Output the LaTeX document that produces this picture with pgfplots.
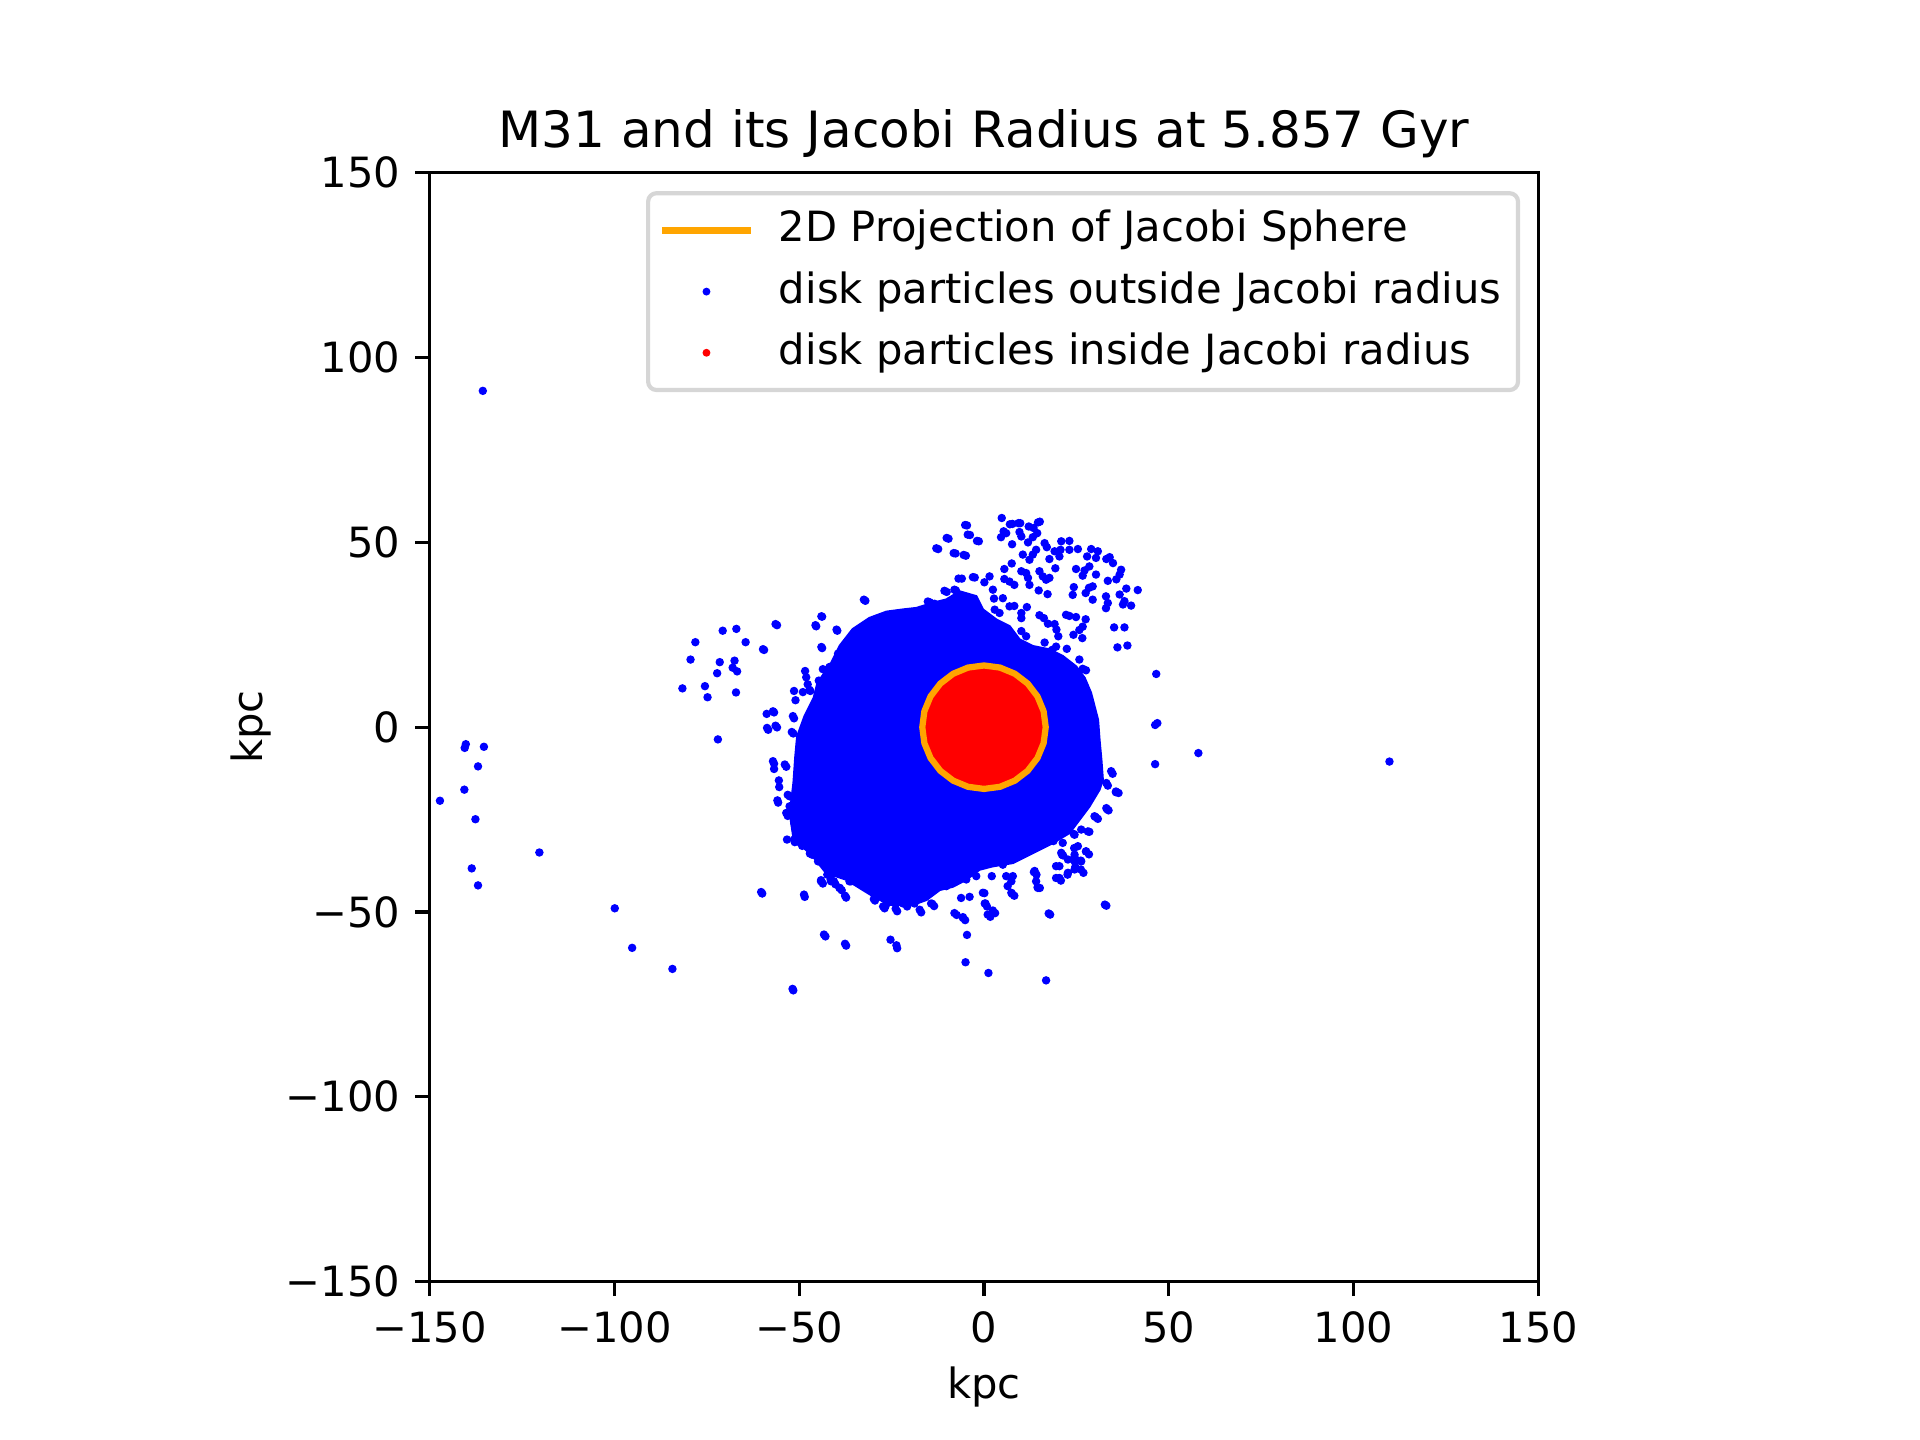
\documentclass[border=0pt]{standalone}
\usepackage{fontspec}
\setmainfont{DejaVu Sans}
\usepackage{pgfplots}
\usepackage{pgfplotstable}
\pgfplotsset{compat=1.18}
\definecolor{mplorange}{RGB}{255,165,0}
\definecolor{legframe}{RGB}{214,214,214}
\definecolor{mblue}{RGB}{0,0,255}
\definecolor{mred}{RGB}{255,0,0}

\pgfplotstableread{
x y
-135.6 91.0
-147.2 -19.9
-140.2 -4.6
-140.5 -5.6
-135.3 -5.3
-136.9 -10.6
-140.6 -16.9
-137.6 -24.9
-138.6 -38.2
-136.9 -42.8
-120.3 -33.9
-99.9 -49.0
-95.2 -59.7
-84.3 -65.4
-51.6 -71.2
-60.0 -45.0
-48.5 -45.9
-42.9 -56.6
-37.3 -59.1
-25.3 -57.5
-23.5 -59.8
-5.0 -63.6
-4.6 -56.2
1.2 -66.5
16.8 -68.5
17.9 -50.7
33.1 -48.3
109.7 -9.3
58.0 -7.0
46.3 -10.0
46.3 0.6
46.9 1.1
46.6 14.4
-78.1 23.0
-70.7 26.1
-67.0 26.6
-64.5 23.0
-56.0 27.6
-59.5 20.9
-79.4 18.3
-71.5 17.6
-67.5 18.0
-68.0 16.1
-66.8 15.1
-72.2 14.6
-81.6 10.5
-75.5 11.1
-74.8 8.1
-67.1 9.4
-72.0 -3.3
41.6 37.1
38.5 37.5
36.1 21.6
38.8 22.1
35.2 27.0
38.0 27.0
33.5 33.6
33.0 32.2
4.8 56.6
-5.1 54.7
-4.4 52.1
-1.9 50.4
-5.5 46.6
7.0 54.9
9.3 55.2
14.6 55.4
12.1 54.3
5.3 53.0
6.0 52.5
9.6 52.8
10.1 51.6
4.6 51.4
14.4 52.5
13.2 51.4
7.6 49.5
11.9 50.0
16.4 49.8
17.0 48.7
14.1 48.0
13.2 46.7
20.9 50.3
23.1 50.4
20.7 48.0
23.1 48.0
25.4 48.2
19.1 47.6
20.4 46.2
29.0 48.2
30.8 47.6
27.9 46.2
30.3 45.8
33.1 45.5
34.0 46.0
10.5 46.7
12.3 45.3
7.5 44.3
17.7 45.5
5.5 42.8
10.1 42.2
11.4 41.7
11.9 40.4
15.0 42.2
15.9 40.8
17.7 40.4
16.8 39.9
19.3 43.0
24.9 42.8
27.2 42.4
26.7 41.0
28.5 43.5
30.3 41.3
34.9 44.4
37.1 42.6
36.7 41.3
35.8 40.0
33.5 39.6
-3.0 40.6
1.5 40.8
0.1 39.2
5.5 40.1
6.9 39.4
8.2 38.5
12.3 38.5
14.8 37.0
17.2 36.0
24.3 37.9
24.0 35.8
28.4 37.7
29.4 38.1
27.5 36.3
29.4 34.5
33.0 35.4
36.7 35.9
38.0 34.1
39.8 32.9
37.6 33.2
2.4 37.2
2.7 34.8
5.1 34.9
6.9 32.7
8.2 32.8
11.6 32.5
10.1 30.9
10.1 29.5
22.2 30.4
24.9 29.8
16.2 29.5
17.3 28.0
19.1 27.9
19.6 26.4
20.1 24.6
27.5 29.2
26.7 27.2
25.8 26.3
24.2 25.0
26.6 24.1
22.4 21.2
25.8 18.3
26.7 15.8
16.4 22.9
19.5 21.8
18.4 20.9
10.1 26.0
11.4 24.6
2.9 31.8
4.2 30.9
15.0 30.3
23.1 30.1
27.6 15.4
-4.6 54.6
-3.8 52.0
-1.4 50.3
-9.6 51.0
-12.4 48.2
-7.7 47.0
-4.9 46.4
-6.0 40.2
-2.5 40.5
-10.1 36.6
-7.6 37.0
-14.7 33.8
7.7 55.0
9.8 55.2
15.1 55.6
13.4 53.9
-10.1 51.2
-12.9 48.4
-8.2 47.1
-6.9 40.2
-10.7 36.9
-8.0 37.2
-15.2 34.0
-13.4 33.4
-32.5 34.5
-44.0 30.0
-45.6 27.6
-39.9 26.4
-44.0 21.7
-39.5 19.9
-56.4 27.9
-59.8 21.1
-33.8 26.4
-48.4 15.2
-47.7 11.6
-44.7 12.6
-43.6 15.7
-41.8 16.3
-51.4 9.8
-49.0 9.5
-47.0 9.8
-32.1 34.2
-43.8 29.9
-45.4 27.3
-39.7 26.1
-43.8 21.4
-33.7 26.1
-39.2 19.6
-48.1 13.5
-47.2 10.1
-51.0 7.3
-44.3 11.0
-58.8 3.6
-56.8 4.0
-58.4 -0.7
-56.0 -0.05
-51.4 2.4
-51.6 -1.7
-56.8 -9.9
-53.5 -10.7
-55.5 -14.4
-55.4 -16.2
-55.7 -20.4
-53.1 -24.0
-51.1 -25.6
-51.2 -31.1
-57.1 4.3
-51.7 3.0
-58.7 -0.2
-56.4 0.4
-52.0 -1.3
-57.1 -9.2
-56.8 -11.3
-53.9 -10.1
-55.9 -19.8
-52.6 -18.7
-53.1 -23.5
-51.5 -21.9
-51.3 -26.1
-49.0 -27.7
-51.4 -30.4
-49.0 -31.8
-45.9 -34.5
-44.1 -41.7
-40.5 -39.5
-41.4 -41.7
-39.1 -43.5
-36.0 -41.7
-33.3 -40.4
-60.3 -44.6
-48.7 -45.3
-50.2 -29.0
-49.2 -32.1
-47.1 -34.2
-44.9 -36.3
-43.3 -56.1
-37.6 -58.6
-23.7 -59.0
-51.8 -70.8
-8.0 -50.3
-14.3 -47.7
-17.4 -49.4
-18.8 -47.7
-23.9 -49.1
-27.3 -48.5
0.2 -47.7
-5.7 -51.6
1.0 -50.7
2.4 -49.6
17.5 -50.4
32.7 -48.0
-43.6 -42.3
-40.2 -42.5
-38.5 -44.1
-37.3 -46.1
-29.5 -46.9
-26.9 -49.0
-23.5 -49.8
-20.8 -48.5
-17.0 -50.1
-13.5 -48.4
-7.4 -50.8
-5.1 -52.2
0.8 -48.5
1.7 -51.3
3.0 -50.3
34.4 -11.9
33.1 -15.1
35.7 -17.4
33.1 -21.9
29.9 -24.1
28.1 -28.2
24.5 -29.1
25.4 -32.2
27.6 -33.6
24.5 -34.5
20.9 -34.0
22.7 -35.8
26.3 -36.3
24.5 -38.5
22.7 -39.4
20.4 -37.6
20.4 -40.8
13.7 -38.9
14.1 -41.7
14.6 -43.5
7.4 -41.7
7.4 -44.8
6.0 -40.3
5.1 -37.2
-0.3 -44.8
-2.1 -40.3
-4.8 -41.2
-5.7 -34.9
34.8 -12.6
36.4 -17.8
33.7 -22.5
30.8 -24.8
21.4 -34.7
24.5 -36.3
28.4 -34.4
26.9 -39.4
20.8 -41.5
15.1 -43.5
8.2 -45.6
14.2 -39.9
-44.1 -41.4
-5.7 -51.4
7.6 -45.1
0.1 -44.9
0.4 -47.7
-6.2 -46.2
-3.9 -45.9
-14.0 -47.8
-26.6 -48.3
-21.9 -47.7
-29.8 -46.5
-37.6 -45.6
-39.0 -43.5
-40.6 -41.7
6.4 -43.0
7.8 -40.3
14.5 -43.3
19.5 -40.8
19.5 -37.6
22.6 -39.9
24.7 -37.8
26.2 -38.5
24.6 -35.4
26.2 -36.1
27.6 -33.6
24.4 -32.7
21.3 -31.3
21.1 -34.5
28.5 -28.3
26.3 -27.7
24.3 -28.9
30.2 -24.3
33.3 -22.2
35.7 -17.6
33.5 -15.8
18.8 -30.8
13.5 -39.2
2.1 -40.3
-10.2 -43.0
-12.9 -43.0
-53.3 -30.4
-53.5 -23.2
-53.1 -18.3
-52.6 -21.4
-50.2 -31.0
-46.5 -34.5
-42.4 -39.9
-41.5 -41.2
-36.4 -41.7
-33.2 -40.8
}\outside

\pgfplotstableread{
x y
-46.0 8.0
-45.0 12.0
-41.5 17.0
-39.0 22.0
-35.5 26.5
-31.0 29.5
-26.4 31.2
-21.9 31.8
-18.3 32.2
-13.8 33.6
-10.2 34.5
-6.6 36.7
-2.1 35.4
-0.3 31.8
3.3 29.1
6.9 27.3
9.6 23.7
13.2 21.9
17.7 21.0
21.3 19.2
24.9 16.4
27.2 13.3
28.9 9.3
30.8 2.0
31.2 -3.4
31.7 -8.8
32.1 -14.2
31.2 -16.9
28.5 -21.4
25.8 -25.0
23.1 -28.6
18.6 -31.3
13.2 -34.0
7.8 -36.7
2.3 -37.6
-1.2 -38.5
-4.8 -41.2
-8.4 -43.1
-12.0 -44.0
-15.6 -46.7
-19.2 -48.0
-25.6 -48.0
-30.0 -45.7
-37.3 -41.2
-42.7 -39.4
-46.3 -34.9
-51.5 -30.0
-52.5 -23.2
-51.5 -15.1
-51.0 -7.9
-50.5 -2.5
-48.5 3.0
-46.0 8.0
}\dense

\pgfplotstableread{
x y
16.7 0
16.13 4.32
14.46 8.35
11.81 11.81
8.35 14.46
4.32 16.13
0 16.7
-4.32 16.13
-8.35 14.46
-11.81 11.81
-14.46 8.35
-16.13 4.32
-16.7 0
-16.13 -4.32
-14.46 -8.35
-11.81 -11.81
-8.35 -14.46
-4.32 -16.13
0 -16.7
4.32 -16.13
8.35 -14.46
11.81 -11.81
14.46 -8.35
16.13 -4.32
16.7 0
}\jacobi

\begin{document}
\begin{tikzpicture}
\path[use as bounding box] (0,0) rectangle (460.8pt,345.6pt);
\begin{axis}[
  at={(103.104pt,38.016pt)}, anchor=south west,
  scale only axis, width=266.112pt, height=266.112pt,
  xmin=-150, xmax=150, ymin=-150, ymax=150,
  axis line style={line width=0.8pt},
  tick align=outside, major tick length=3.5pt,
  tick pos=left,
  every tick/.style={black, line width=0.8pt},
  xtick={-150,-100,-50,0,50,100,150},
  ytick={-150,-100,-50,0,50,100,150},
  xticklabels={−150,−100,−50,0,50,100,150},
  yticklabels={−150,−100,−50,0,50,100,150},
  tick label style={font=\fontsize{10}{12}\selectfont, inner sep=0pt},
  xticklabel style={anchor=north, yshift=-3.5pt},
  yticklabel style={anchor=east, xshift=-3.3pt},
  title={M31 and its Jacobi Radius at 5.857 Gyr},
  title style={at={(0.5,1)}, anchor=base, yshift=0pt, inner sep=0pt, font=\fontsize{12}{14}\selectfont},
  xlabel={kpc}, ylabel={kpc},
  label style={font=\fontsize{10}{12}\selectfont, inner sep=0pt},
  xlabel style={at={(axis description cs:0.5,0)}, anchor=center, yshift=-25.2pt},
  ylabel style={at={(axis description cs:-0.1608,0.5)}, anchor=center},
  legend style={at={(1,1)}, xshift=-4.4pt, yshift=-4.4pt, anchor=north east,
    draw=legframe, line width=1pt, rounded corners=2pt, fill=white,
    inner xsep=4pt, inner ysep=4.1pt, row sep=5.0pt,
    font=\fontsize{10}{12}\selectfont,
    nodes={inner sep=0pt, text depth=},
    /tikz/every odd column/.style={column sep=7.4pt}},
  legend cell align=left,
]
\addlegendimage{legend image code/.code={\path[draw=none,fill=none] (0pt,-1pt) rectangle (20pt,1pt); \draw[overlay, mplorange, line width=1.5pt, line cap=rect] (0pt,0pt) -- (20pt,0pt);}}
\addlegendentry{2D Projection of Jacobi Sphere}
\addlegendimage{legend image code/.code={\path[draw=none,fill=none] (0pt,-1pt) rectangle (20pt,1pt); \fill[overlay, mblue,draw=none] (10pt,0pt) circle (0.95pt);}}
\addlegendentry{disk particles outside Jacobi radius}
\addlegendimage{legend image code/.code={\path[draw=none,fill=none] (0pt,-1pt) rectangle (20pt,1pt); \fill[overlay, mred,draw=none] (10pt,0pt) circle (0.95pt);}}
\addlegendentry{disk particles inside Jacobi radius}

\addplot[forget plot, draw=mblue, line width=0.6pt, fill=mblue] table {\dense} -- cycle;
\addplot[forget plot, mblue, only marks, mark=*, mark size=0.8pt, mark options={draw=mblue, fill=mblue, line width=0.4pt}] table {\outside};
\addplot[forget plot, draw=none, fill=mred] table {\jacobi} -- cycle;
\addplot[forget plot, mplorange, line width=1.5pt] table {\jacobi} -- cycle;
\end{axis}
\end{tikzpicture}
\end{document}
